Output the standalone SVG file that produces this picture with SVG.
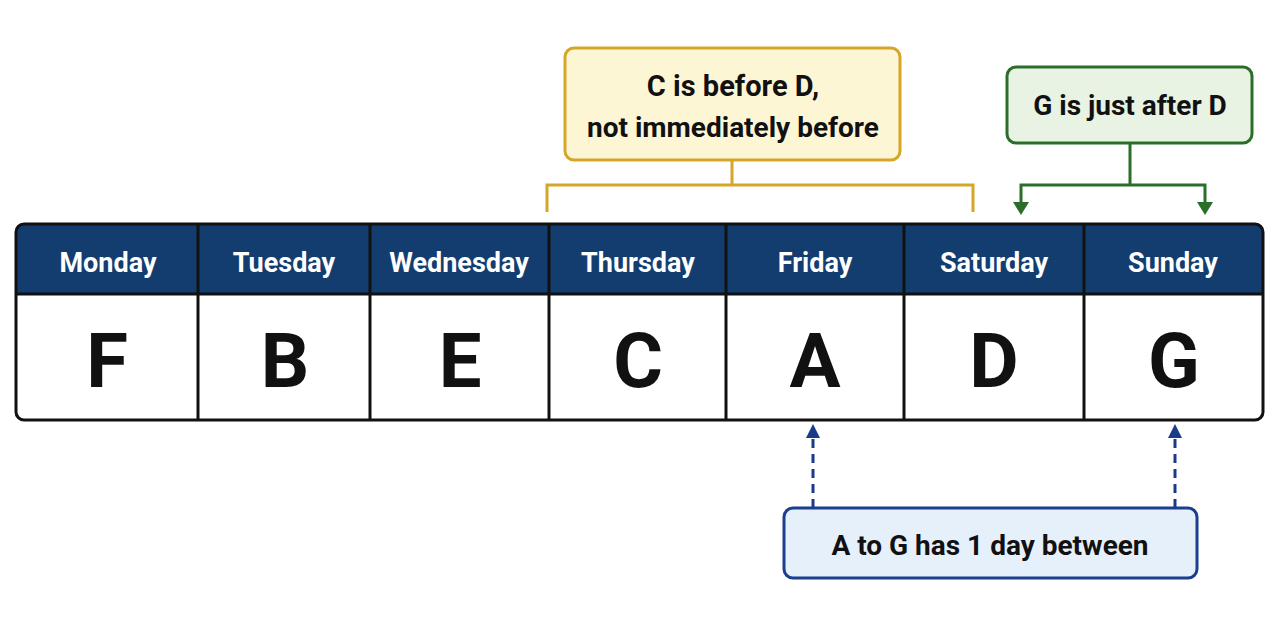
<svg xmlns="http://www.w3.org/2000/svg" width="1280" height="640" viewBox="0 0 1280 640">
<style>
.hdr{font-family:"Roboto","Liberation Sans",sans-serif;font-weight:700;font-size:27px;fill:#fff;text-anchor:middle}
.let{font-family:"Roboto","Liberation Sans",sans-serif;font-weight:700;font-size:76px;fill:#111;text-anchor:middle}
.lbl{font-family:"Roboto","Liberation Sans",sans-serif;font-weight:700;font-size:28px;fill:#111;text-anchor:middle}
.div{stroke:#111;stroke-width:3}
</style>
<defs>
<marker id="ab" viewBox="0 0 10 10" refX="5" refY="0" markerWidth="14" markerHeight="14" markerUnits="userSpaceOnUse"><path d="M5,0 L10,10 L0,10 Z" fill="#1a3a8a"/></marker>
</defs>
<rect width="1280" height="640" fill="#fff"/>
<g id="table">
<path d="M16,294 V232 a8,8 0 0 1 8,-8 H1255 a8,8 0 0 1 8,8 V294 Z" fill="#143d6f"/>
<rect x="16" y="224" width="1247" height="196" rx="8" fill="none" stroke="#111" stroke-width="3"/>
<line class="div" x1="16" y1="294" x2="1263" y2="294"/>
<line class="div" x1="198" y1="224" x2="198" y2="420"/>
<line class="div" x1="370" y1="224" x2="370" y2="420"/>
<line class="div" x1="549" y1="224" x2="549" y2="420"/>
<line class="div" x1="726" y1="224" x2="726" y2="420"/>
<line class="div" x1="904" y1="224" x2="904" y2="420"/>
<line class="div" x1="1084" y1="224" x2="1084" y2="420"/>
<text class="hdr" x="108" y="272">Monday</text>
<text class="hdr" x="284" y="272">Tuesday</text>
<text class="hdr" x="459" y="272">Wednesday</text>
<text class="hdr" x="638" y="272">Thursday</text>
<text class="hdr" x="815" y="272">Friday</text>
<text class="hdr" x="994" y="272">Saturday</text>
<text class="hdr" x="1173" y="272">Sunday</text>
<text class="let" x="107" y="387">F</text>
<text class="let" x="285" y="387">B</text>
<text class="let" x="460" y="387">E</text>
<text class="let" x="638" y="387">C</text>
<text class="let" x="815" y="387">A</text>
<text class="let" x="994" y="387">D</text>
<text class="let" x="1174" y="387">G</text>
</g>
<g id="note-c-before-d">
<rect x="565" y="48" width="335" height="112" rx="9" fill="#fdf6d4" stroke="#d6a62a" stroke-width="3"/>
<text class="lbl" x="733" y="96" style="font-size:29px">C is before D,</text>
<text class="lbl" x="733" y="137">not immediately before</text>
</g>
<g id="note-g-after-d">
<rect x="1007" y="67" width="245" height="76" rx="9" fill="#e8f3e3" stroke="#2a6e2a" stroke-width="3"/>
<text class="lbl" x="1130" y="115">G is just after D</text>
</g>
<g id="note-a-to-g">
<rect x="784" y="508" width="413" height="70" rx="9" fill="#e6f0fb" stroke="#1a3f8f" stroke-width="3"/>
<text class="lbl" x="990" y="555">A to G has 1 day between</text>
</g>
<g id="connectors" fill="none">
<path d="M732,160 V185 M547,212 V185 H973 V212" stroke="#d6a62a" stroke-width="3"/>
<path d="M1130,143 V185" stroke="#2a6e2a" stroke-width="3"/>
<path d="M1021,204 V185 H1205 V204" stroke="#2a6e2a" stroke-width="3"/>
<path d="M1013,202 H1029 L1021,215 Z M1197,202 H1213 L1205,215 Z" fill="#2a6e2a"/>
<path d="M813,508 V438" stroke="#1a3a8a" stroke-width="3" stroke-dasharray="9,6"/>
<path d="M1175,508 V438" stroke="#1a3a8a" stroke-width="3" stroke-dasharray="9,6"/>
<path d="M813,424 V425" stroke="none" marker-start="url(#ab)"/>
<path d="M1175,424 V425" stroke="none" marker-start="url(#ab)"/>
</g>
</svg>
